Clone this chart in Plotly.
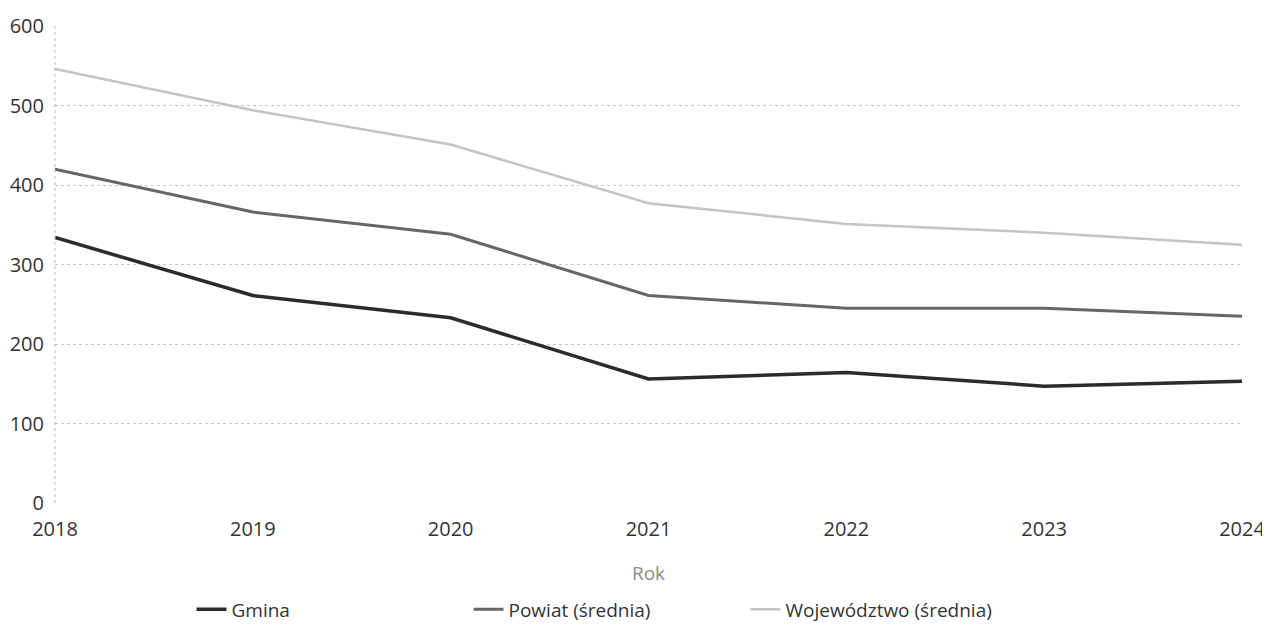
import plotly.graph_objects as go

years = [2018, 2019, 2020, 2021, 2022, 2023, 2024]
gmina = [334, 261, 233, 156, 164, 147, 153]
powiat = [420, 366, 338, 261, 245, 245, 235]
wojewodztwo = [546, 494, 451, 377, 351, 340, 325]

names = ["Gmina", "Powiat (średnia)", "Województwo (średnia)"]
colors = ["#2b2b2b", "#666666", "#c4c4c4"]
widths = [3.5, 3, 2.5]

fig = go.Figure()
for name, vals, c, w in zip(names, [gmina, powiat, wojewodztwo], colors, widths):
    fig.add_trace(go.Scatter(x=years, y=vals, mode="lines", name=name,
                             line=dict(color=c, width=w)))

fig.add_shape(type="line", xref="paper", yref="paper", x0=0, x1=0, y0=0, y1=1,
              line=dict(color="#bdbdbd", width=1, dash="dot"))

fig.update_layout(
    width=1262, height=625,
    margin=dict(l=47, r=28, t=18, b=130, autoexpand=False),
    paper_bgcolor="white", plot_bgcolor="white",
    font=dict(family="Open Sans, Noto Sans, sans-serif", size=20, color="#333"),
    xaxis=dict(range=[2018, 2024], tickvals=years, ticktext=[str(y) for y in years],
               showgrid=False, zeroline=False, showline=False, ticks="",
               automargin=False, ticklabelstandoff=12, ticklabeloverflow="allow",
               title=dict(text="Rok", font=dict(color="#8a8a8a", size=19), standoff=25)),
    yaxis=dict(range=[0, 600], dtick=100, showgrid=True, gridcolor="#c8c8c8",
               griddash="dot", gridwidth=1, zeroline=False, showline=False, ticks="",
               automargin=False, ticklabelstandoff=10),
    legend=dict(orientation="h", x=0.115, xanchor="left", y=-0.183, yanchor="top",
                entrywidth=232, entrywidthmode="pixels",
                font=dict(size=19, color="#333")),
    showlegend=True,
)

fig.write_html("out.html")
